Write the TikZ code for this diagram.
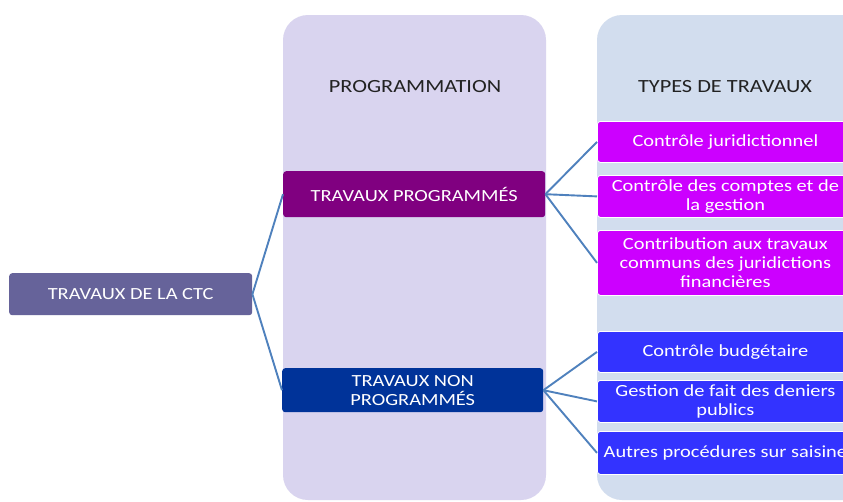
\documentclass[tikz,border=0pt]{standalone}
\usepackage{fontspec}
\setmainfont[FakeStretch=1.2]{Carlito}
\definecolor{colprog}{HTML}{D9D4EF}
\definecolor{coltypes}{HTML}{D2DDEE}
\definecolor{ctcfill}{HTML}{66639A}
\definecolor{progfill}{HTML}{800080}
\definecolor{nonprogfill}{HTML}{003399}
\definecolor{magbox}{HTML}{CC00FF}
\definecolor{bluebox}{HTML}{3333FF}
\definecolor{linkcol}{HTML}{4F81BD}
\definecolor{headcol}{HTML}{222222}
\tikzset{
  box/.style={anchor=north west, rounded corners=3pt, text=white, align=center,
    inner sep=0pt, font=\fontsize{17}{19}\selectfont},
  midbox/.style={box, minimum width=262pt, minimum height=46pt},
  typebox/.style={box, draw=white, line width=0.8pt, minimum width=256pt},
  header/.style={text=headcol, font=\fontsize{18.6}{20}\selectfont},
  link/.style={draw=linkcol, line width=1.9pt}
}
\begin{document}
\begin{tikzpicture}[x=1pt,y=-1pt]
\useasboundingbox (0,0) rectangle (843,501);
\clip (0,0) rectangle (843,501);
\fill[white] (0,0) rectangle (843,501);

% the two column panels
\fill[colprog, rounded corners=25pt] (283,15) rectangle (546,500);
\fill[coltypes, rounded corners=25pt] (597,15) rectangle (880,500);
\node[header] (hprog) at (415,87) {PROGRAMMATION};
\node[header] (htypes) at (725,87) {TYPES DE TRAVAUX};

% root
\node[box, fill=ctcfill, minimum width=243pt, minimum height=42pt] (ctc) at (9,273) {TRAVAUX DE LA CTC};

% programming level
\node[midbox, fill=progfill] (prog) at (283,171) {TRAVAUX PROGRAMMÉS};
\node[midbox, fill=nonprogfill, minimum width=261pt, minimum height=44pt] (nonprog) at (282,368) {TRAVAUX NON\\PROGRAMMÉS};

% types of work
\node[typebox, fill=magbox, minimum height=41pt] (t1) at (597,121) {Contrôle juridictionnel};
\node[typebox, fill=magbox, minimum height=42pt] (t2) at (597,175) {Contrôle des comptes et de\\la gestion};
\node[typebox, fill=magbox, minimum height=65pt] (t3) at (597,230) {Contribution aux travaux\\communs des juridictions\\financières};
\node[typebox, fill=bluebox, minimum height=41pt] (t4) at (597,331) {Contrôle budgétaire};
\node[typebox, fill=bluebox, minimum height=42pt] (t5) at (597,380) {Gestion de fait des deniers\\publics};
\node[typebox, fill=bluebox, minimum height=43pt] (t6) at (597,431) {Autres procédures sur saisine};

% connectors
\draw[link] (ctc.east) -- (prog.west);
\draw[link] (ctc.east) -- (nonprog.west);
\draw[link] (prog.east) -- (t1.west);
\draw[link] (prog.east) -- (t2.west);
\draw[link] (prog.east) -- (t3.west);
\draw[link] (nonprog.east) -- (t4.west);
\draw[link] (nonprog.east) -- (t5.west);
\draw[link] (nonprog.east) -- (t6.west);
\end{tikzpicture}
\end{document}
